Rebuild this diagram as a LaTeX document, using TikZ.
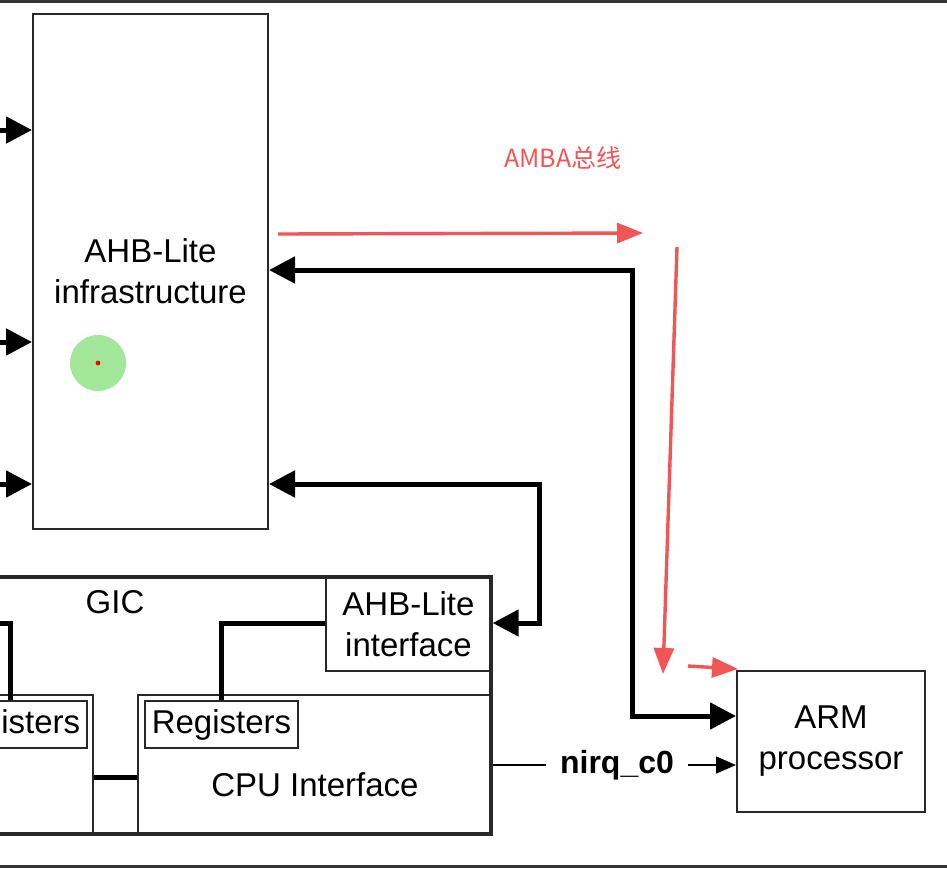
\documentclass[tikz,border=0pt]{standalone}
\usepackage{fontspec}
\setmainfont{Liberation Sans}
\newfontfamily\cjk{Noto Sans CJK SC}
\usetikzlibrary{arrows.meta}
\definecolor{boxline}{RGB}{40,40,40}
\definecolor{notered}{RGB}{242,85,85}
\definecolor{cursorgreen}{RGB}{140,225,130}
\tikzset{
    block/.style={ % plain boxes of the diagram
        draw=boxline, line width=1pt, inner sep=0pt,
        align=center, font=\fontsize{16.5}{20.5}\selectfont
    },
    outerbox/.style={block, line width=1.7pt}, % the GIC frame
    plaintext/.style={inner sep=0pt, font=\fontsize{16.5}{20.5}\selectfont},
    bus/.style={ % thick bus lines with big heads
        draw, line width=2.5pt,
        >={Triangle[length=13pt,width=13pt]}
    },
    link/.style={draw, line width=2.5pt},
    signal/.style={draw, line width=0.8pt, >={Triangle[length=10pt,width=8.5pt]}},
    notearrow/.style={ % red hand-drawn remarks
        draw=notered, line width=1.7pt,
        -{Triangle[length=13pt,width=10pt]}, notered
    },
    notetext/.style={text=notered, inner sep=0pt, font=\cjk\fontsize{12.5}{14}\selectfont},
    frameline/.style={draw=gray!40!black, line width=1.5pt}
}
\begin{document}
\begin{tikzpicture}[x=0.5pt,y=-0.5pt]
    \useasboundingbox (0,0) rectangle (947,868);
    \fill[white] (0,0) rectangle (947,868);
    \clip (0,0) rectangle (947,868);

    % frame of the screenshot
    \draw[frameline] (0,1.5) -- (947,1.5);
    \draw[frameline] (0,866.5) -- (947,866.5);

    % blocks
    \node[block, minimum width=117.5pt, minimum height=257.5pt] (infra) at (150.5,271.5) {AHB-Lite\\infrastructure};
    \node[outerbox, minimum width=395.5pt, minimum height=128.5pt] (gic) at (95.5,705.5) {};
    \node[plaintext] (giclabel) at (115,602) {GIC};
    \node[block, minimum width=82.5pt, minimum height=47pt] (ahbif) at (408.5,624) {AHB-Lite\\interface};
    \node[block, minimum width=176.5pt, minimum height=69.5pt] (cpuif) at (314.5,764.5) {};
    \node[plaintext] (cpulabel) at (315,785) {CPU Interface};
    \node[block, minimum width=76.5pt, minimum height=23.5pt] (regcpu) at (221.5,724.5) {Registers};
    \node[block, minimum width=196.5pt, minimum height=69.5pt] (dist) at (-103.5,764.5) {};
    \node[block, minimum width=76.5pt, minimum height=23.5pt] (regdist) at (10.5,724.5) {Registers};
    \node[block, minimum width=94pt, minimum height=70.5pt] (arm) at (831,741.5) {};
    \node[plaintext, align=center] (armlabel) at (831,741) {ARM\\processor};

    % buses into the infrastructure
    \foreach \y [count=\i] in {130,342,484} {
        \coordinate (src\i) at (-30,\y);
        \draw[bus,->] (src\i) -- (src\i -| infra.west);
    }

    \coordinate (bendA) at (632,270);
    \coordinate (bendB) at (632,716);
    \draw[bus,<->] (bendA -| infra.east) -- (bendA) -- (bendB) -- (bendB -| arm.west);

    \coordinate (bendC) at (539,484);
    \coordinate (bendD) at (539,623);
    \draw[bus,<->] (bendC -| infra.east) -- (bendC) -- (bendD) -- (bendD -| gic.east);

    % inside the GIC
    \draw[link] (ahbif.west |- bendD) -| (regcpu.north);
    \coordinate (distsrc) at (-40,623);
    \draw[link] (distsrc) -| (regdist.north);
    \coordinate (midlink) at (115,777);
    \draw[link] (midlink -| dist.east) -- (midlink -| cpuif.west);

    % interrupt line
    \node[plaintext, font=\bfseries\fontsize{16}{19}\selectfont, inner xsep=7pt] (nirq) at (617,765) {nirq\_c0};
    \draw[signal] (nirq -| gic.east) -- (nirq.west);
    \draw[signal,->] (nirq.east) -- (nirq -| arm.west);

    % red remarks
    \node[notetext] (amba) at (563,158) {AMBA总线};
    \coordinate (noteAs) at (278,234);
    \coordinate (noteAe) at (643,233);
    \draw[notearrow] (noteAs) -- (noteAe);
    \coordinate (noteBs) at (677,247);
    \coordinate (noteBe) at (663,674);
    \draw[notearrow] (noteBs) -- (noteBe);
    \coordinate (noteCs) at (688,666);
    \coordinate (noteCe) at (738,669);
    \draw[notearrow] (noteCs) -- (noteCe);

    % cursor mark
    \fill[cursorgreen, opacity=0.8] (98,363) circle[radius=14pt];
    \fill[red] (98,363) circle[radius=1.2pt];
\end{tikzpicture}
\end{document}
